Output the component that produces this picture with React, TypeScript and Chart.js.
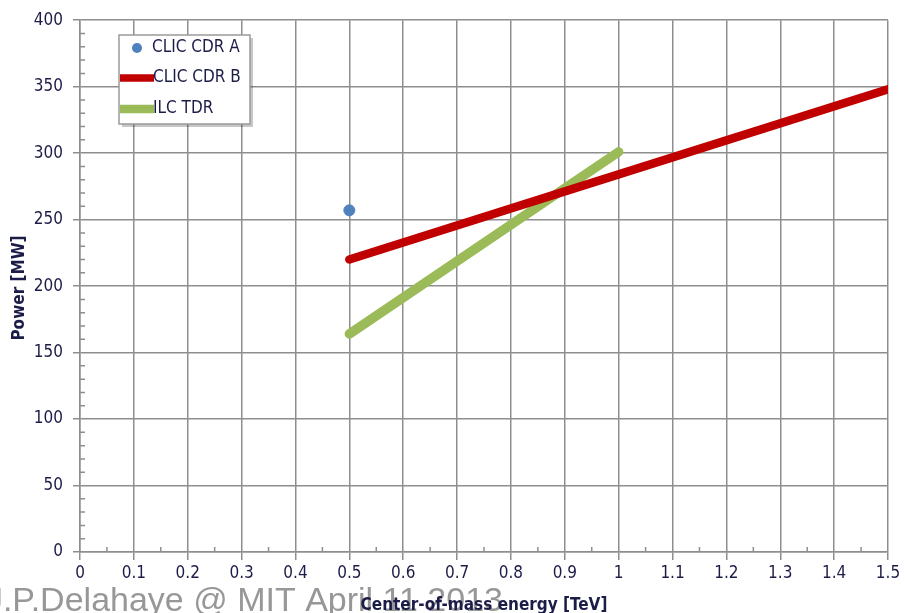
import React, { useEffect, useRef } from "react";
import { Chart, registerables } from "chart.js";

Chart.register(...registerables);

const seriesNames = ["CLIC CDR A", "CLIC CDR B", "ILC TDR"];
const clicAx = [0.5];
const clicAy = [257];
const clicBx = [0.5, 1.0, 1.5];
const clicBy = [220, 284, 348];
const ilcX = [0.5, 1.0];
const ilcY = [164, 301];
const xTitle = "Center-of-mass energy [TeV]";
const yTitle = "Power [MW]";
const watermark = "J.P.Delahaye @ MIT April 11 2013";

const GRID = "#8e8e8e";
const TXT = "#1c1c48";
const FONT = "'DejaVu Sans Condensed', 'DejaVu Sans', sans-serif";

const zip = (xs: number[], ys: number[]) => xs.map((x, i) => ({ x, y: ys[i] }));

const decor = {
  id: "decor",
  beforeDraw(chart: any) {
    const ctx = chart.ctx;
    ctx.save();
    ctx.fillStyle = "#fff";
    ctx.fillRect(0, 0, chart.width, chart.height);
    ctx.restore();
  },
  afterDatasetsDraw(chart: any) {
    const ctx = chart.ctx;
    const xs = chart.scales.x;
    const ys = chart.scales.y;
    const ca = chart.chartArea;
    ctx.save();
    // minor ticks
    ctx.strokeStyle = GRID;
    ctx.lineWidth = 1.5;
    ctx.beginPath();
    for (let v = 0.05; v < 1.5; v += 0.1) {
      const px = xs.getPixelForValue(v);
      ctx.moveTo(px, ca.bottom);
      ctx.lineTo(px, ca.bottom - 5);
    }
    for (let v = 10; v < 400; v += 10) {
      if (v % 50 === 0) continue;
      const py = ys.getPixelForValue(v);
      ctx.moveTo(ca.left, py);
      ctx.lineTo(ca.left + 5, py);
    }
    ctx.stroke();

    // legend box
    const bx = 119, by = 35, bw = 131, bh = 89;
    ctx.fillStyle = "rgba(0,0,0,0.22)";
    ctx.fillRect(bx + 3, by + 3, bw, bh);
    ctx.fillStyle = "#fff";
    ctx.fillRect(bx, by, bw, bh);
    ctx.strokeStyle = "#9a9a9a";
    ctx.lineWidth = 1.5;
    ctx.strokeRect(bx, by, bw, bh);

    const ds = chart.data.datasets;
    const rows = [48, 78, 109];
    ctx.textBaseline = "middle";
    ctx.fillStyle = ds[0].backgroundColor;
    ctx.beginPath();
    ctx.arc(137, rows[0], 5, 0, Math.PI * 2);
    ctx.fill();
    [1, 2].forEach((i) => {
      ctx.strokeStyle = ds[i].borderColor;
      ctx.lineWidth = ds[i].borderWidth - 1;
      ctx.lineCap = "butt";
      ctx.beginPath();
      ctx.moveTo(120, rows[i]);
      ctx.lineTo(154, rows[i]);
      ctx.stroke();
    });
    ctx.font = `17px ${FONT}`;
    ctx.fillStyle = TXT;
    ctx.fillText(seriesNames[0], 152, rows[0]);
    ctx.fillText(seriesNames[1], 153, rows[1]);
    ctx.fillText(seriesNames[2], 153, rows[2]);

    // watermark
    ctx.font = "34px 'Liberation Sans', Arial, sans-serif";
    ctx.textAlign = "right";
    ctx.textBaseline = "alphabetic";
    ctx.fillStyle = "rgba(125,125,125,0.8)";
    ctx.fillText(watermark, 503, 611);

    // axis titles
    ctx.fillStyle = TXT;
    ctx.font = `bold 17px ${FONT}`;
    ctx.textAlign = "center";
    ctx.textBaseline = "alphabetic";
    ctx.fillText(xTitle, (ca.left + ca.right) / 2, 610);
    ctx.save();
    ctx.translate(20, 288);
    ctx.rotate(-Math.PI / 2);
    ctx.textBaseline = "middle";
    ctx.fillText(yTitle, 0, 0);
    ctx.restore();

    ctx.restore();
  },
};

export default function App() {
  const ref = useRef<HTMLCanvasElement | null>(null);
  useEffect(() => {
    if (!ref.current) return;
    const chart = new Chart(ref.current, {
      type: "scatter",
      data: {
        datasets: [
          {
            label: seriesNames[0],
            data: zip(clicAx, clicAy),
            backgroundColor: "#4f81bd",
            borderColor: "#4f81bd",
            pointRadius: 5.5,
            showLine: false,
          },
          {
            label: seriesNames[1],
            data: zip(clicBx, clicBy),
            borderColor: "#c00000",
            backgroundColor: "#c00000",
            borderWidth: 8.5,
            pointRadius: 0,
            showLine: true,
            borderCapStyle: "round",
            borderJoinStyle: "round",
          },
          {
            label: seriesNames[2],
            data: zip(ilcX, ilcY),
            borderColor: "#9bbb59",
            backgroundColor: "#9bbb59",
            borderWidth: 9.5,
            pointRadius: 0,
            showLine: true,
            borderCapStyle: "round",
          },
        ],
      } as any,
      plugins: [decor],
      options: {
        responsive: false,
        animation: false,
        layout: { padding: { top: 8, right: 17, left: 0, bottom: 0 } },
        plugins: {
          legend: { display: false },
          tooltip: { enabled: false },
        },
        scales: {
          x: {
            type: "linear",
            min: 0,
            max: 1.5,
            afterFit: (s: any) => {
              s.height = 61;
            },
            ticks: {
              stepSize: 0.1,
              color: TXT,
              font: { family: FONT, size: 17 },
              padding: 3,
              maxRotation: 0,
              autoSkip: false,
              callback: (v: any) => String(Math.round(Number(v) * 10) / 10),
            },
            grid: { color: GRID, lineWidth: 1.5, tickLength: 8 },
            border: { color: GRID, width: 1.5 },
          },
          y: {
            type: "linear",
            min: 0,
            max: 400,
            afterFit: (s: any) => {
              s.width = 80;
            },
            ticks: {
              stepSize: 50,
              color: TXT,
              font: { family: FONT, size: 17 },
              padding: 10,
            },
            grid: { color: GRID, lineWidth: 1.5, tickLength: 7 },
            border: { color: GRID, width: 1.5 },
          },
        },
      } as any,
    });
    return () => chart.destroy();
  }, []);
  return (
    <div style={{ position: "absolute", left: 0, top: 0, width: 905, height: 613 }}>
      <canvas ref={ref} width={905} height={613} style={{ width: 905, height: 613 }} />
    </div>
  );
}
